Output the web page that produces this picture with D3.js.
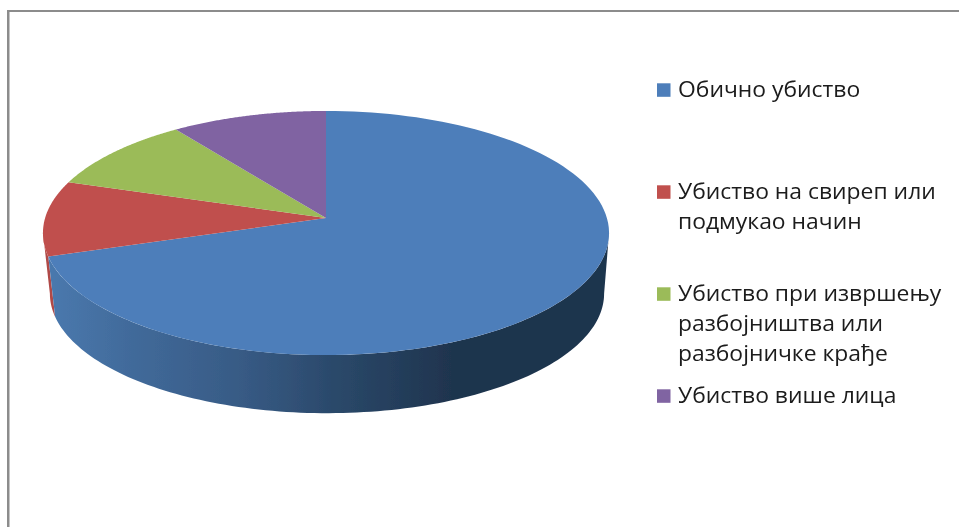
<!DOCTYPE html>
<html><head><meta charset="utf-8">
<style>html,body{margin:0;padding:0;background:#fff}svg{display:block}</style>
<script src="https://cdn.jsdelivr.net/npm/d3@7/dist/d3.min.js"></script>
</head><body><svg id="c" width="959" height="527"></svg>
<script>
const categories = ["Обично убиство","Убиство на свиреп или подмукао начин","Убиство при извршењу разбојништва или разбојничке крађе","Убиство више лица"];
const values = [70,10,10,10];
const colors = ["#4d7eba","#c0504d","#9bbb59","#8064a2"];
const sideColors = ["#4a79ae","#b04a47"];
const legendLines = [["Обично убиство"],["Убиство на свиреп или","подмукао начин"],["Убиство при извршењу","разбојништва или","разбојничке крађе"],["Убиство више лица"]];

const svg = d3.select("#c");
const defs = svg.append("defs");
const blur = (id,s)=>defs.append("filter").attr("id",id).attr("x","-5%").attr("y","-5%").attr("width","110%").attr("height","110%")
  .append("feGaussianBlur").attr("stdDeviation",s);
blur("soft",0.45); blur("softT",0.45);
const grad = defs.append("linearGradient").attr("id","wall").attr("gradientUnits","userSpaceOnUse")
  .attr("x1",48).attr("x2",609).attr("y1",0).attr("y2",0);
[[0,"#4a79ae"],[0.15,"#416a9a"],[0.35,"#375a84"],[0.52,"#2a4869"],[0.72,"#1f344e"],[1,"#1f344e"]]
  .forEach(([o,c])=>grad.append("stop").attr("offset",o).attr("stop-color",c));

// frame
svg.append("rect").attr("x",7).attr("y",10).attr("width",952).attr("height",2).attr("fill","#8c8c8c");
svg.append("rect").attr("x",7).attr("y",10).attr("width",2.5).attr("height",517).attr("fill","#8c8c8c");

// perspective projection of the pie disc
const persp = 0.123, A = 120.2, B = 280.9;
const topFace = {x0:326,y0:218,s:1}, botFace = {x0:327,y0:279,s:0.979};
const proj = (face,t)=>{const u=Math.sin(t),v=Math.cos(t),w=1+persp*v;
  return [face.x0+face.s*B*u/w, face.y0-face.s*A*v/w];};
const rim = (face,a,b)=>d3.range(0,121).map(i=>proj(face,a+(b-a)*i/120));
const line = d3.line();
const arcs = d3.pie().sort(null).value(d=>d)(values);

const g = svg.append("g").attr("filter","url(#soft)");
const silR = Math.acos(-persp), silL = 2*Math.PI-Math.acos(-persp);
// side walls: red sliver behind, blue wall in front
const wall = (a,b)=>line(rim(topFace,a,b).concat(rim(botFace,a,b).reverse()))+"Z";
g.append("path").attr("d",wall(arcs[1].startAngle,silL)).attr("fill",sideColors[1]);
g.append("path").attr("d",wall(silR,arcs[0].endAngle)).attr("fill","url(#wall)");
// top faces
g.selectAll("path.slice").data(arcs).join("path").attr("class","slice")
  .attr("fill",(d,i)=>colors[i])
  .attr("d",d=>line([[topFace.x0,topFace.y0]].concat(rim(topFace,d.startAngle,d.endAngle)))+"Z");

// legend
const legendX = 657, textX = 678, sw = 13.5, lineH = 30, stretch = 1.09;
const legendY = d3.scaleOrdinal().domain(categories).range([97,199,301,403]);
const leg = svg.append("g").selectAll("g").data(categories).join("g");
leg.append("rect").attr("x",legendX).attr("y",d=>legendY(d)-13.7).attr("width",sw).attr("height",sw)
  .attr("fill",(d,i)=>colors[i]);
leg.append("text").attr("filter","url(#softT)")
  .attr("transform",`translate(${textX},0) scale(${stretch},1)`)
  .attr("font-family","'Open Sans'").attr("font-size",21).attr("fill","#1a1a1a")
  .selectAll("tspan").data((d,i)=>legendLines[i].map((l,j)=>({l,j,y:legendY(d)+j*lineH})))
  .join("tspan").attr("x",0).attr("y",d=>d.y).text(d=>d.l);
</script></body></html>
